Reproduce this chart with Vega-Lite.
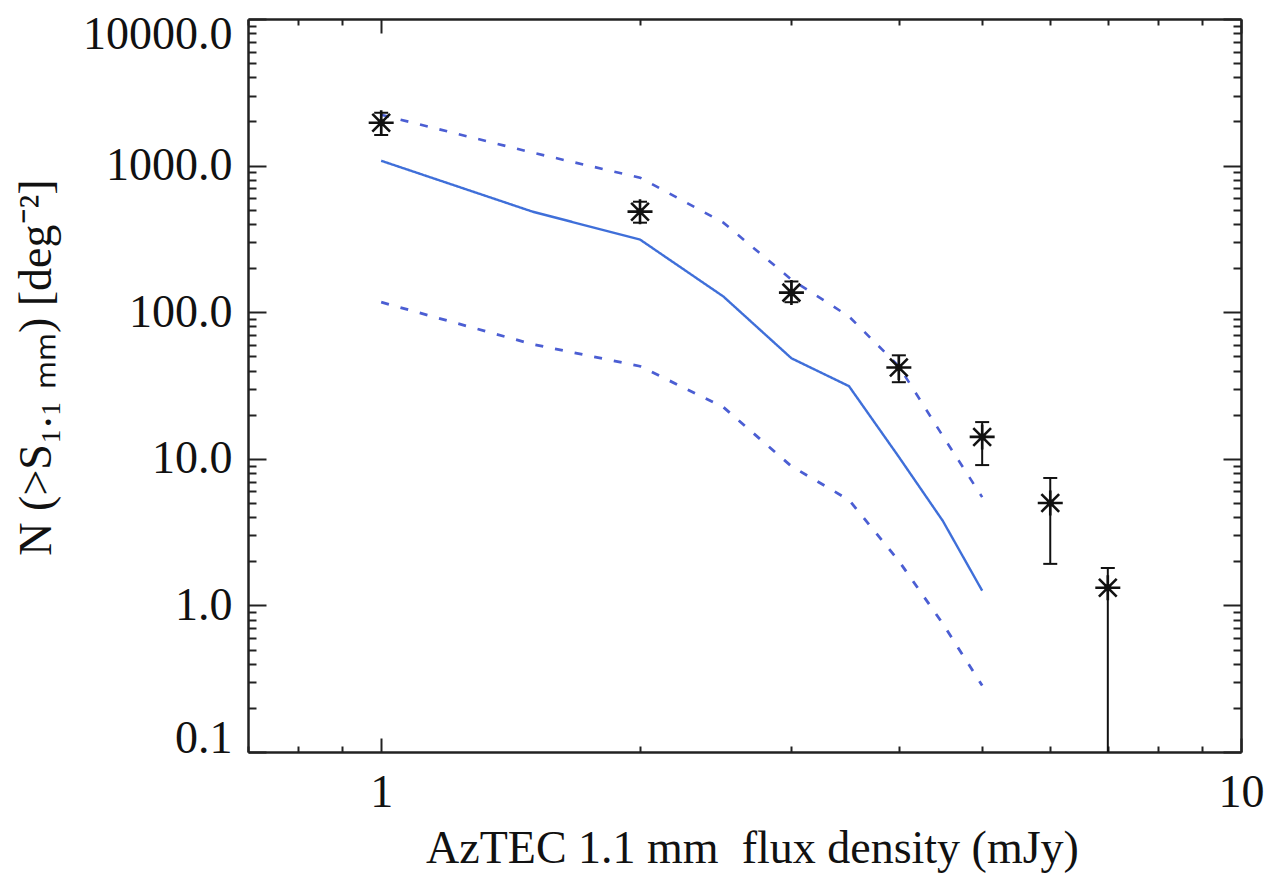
{
  "$schema": "https://vega.github.io/schema/vega-lite/v6.json",
  "width": 993,
  "height": 733,
  "autosize": {"type": "none"},
  "padding": {"left": 248, "top": 19, "right": 27, "bottom": 122},
  "background": "white",
  "config": {
    "view": {"stroke": null},
    "font": "Liberation Serif",
    "axis": {
      "grid": false,
      "labelFont": "Liberation Serif",
      "titleFont": "Liberation Serif",
      "labelFontSize": 46,
      "titleFontSize": 46,
      "labelColor": "#111",
      "titleColor": "#111",
      "titleFontWeight": "normal",
      "domainColor": "#222",
      "domainWidth": 2.5,
      "tickColor": "#222",
      "tickWidth": 2
    }
  },
  "datasets": {
    "model": [
      {"S": 1, "N": 1079, "curve": "model"},
      {"S": 1.5, "N": 485, "curve": "model"},
      {"S": 2, "N": 313, "curve": "model"},
      {"S": 2.5, "N": 128, "curve": "model"},
      {"S": 3, "N": 48.5, "curve": "model"},
      {"S": 3.5, "N": 31.3, "curve": "model"},
      {"S": 4, "N": 10.3, "curve": "model"},
      {"S": 4.5, "N": 3.77, "curve": "model"},
      {"S": 5, "N": 1.26, "curve": "model"},
      {"S": 1, "N": 2220, "curve": "upper"},
      {"S": 1.5, "N": 1225, "curve": "upper"},
      {"S": 2, "N": 828, "curve": "upper"},
      {"S": 2.5, "N": 408, "curve": "upper"},
      {"S": 3, "N": 167, "curve": "upper"},
      {"S": 3.5, "N": 93.5, "curve": "upper"},
      {"S": 4, "N": 42.8, "curve": "upper"},
      {"S": 4.5, "N": 14.3, "curve": "upper"},
      {"S": 5, "N": 5.48, "curve": "upper"},
      {"S": 1, "N": 117, "curve": "lower"},
      {"S": 1.5, "N": 60.4, "curve": "lower"},
      {"S": 2, "N": 42.8, "curve": "lower"},
      {"S": 2.5, "N": 22.5, "curve": "lower"},
      {"S": 3, "N": 8.9, "curve": "lower"},
      {"S": 3.5, "N": 5.24, "curve": "lower"},
      {"S": 4, "N": 2.01, "curve": "lower"},
      {"S": 4.5, "N": 0.75, "curve": "lower"},
      {"S": 5, "N": 0.284, "curve": "lower"}
    ],
    "obs": [
      {"S": 1, "N": 1960, "lo": 1620, "hi": 2290},
      {"S": 2, "N": 485, "lo": 408, "hi": 567},
      {"S": 3, "N": 136, "lo": 117, "hi": 162},
      {"S": 4, "N": 42, "lo": 33.3, "hi": 50.8},
      {"S": 5, "N": 14.1, "lo": 9.06, "hi": 17.8},
      {"S": 6, "N": 5.0, "lo": 1.92, "hi": 7.4},
      {"S": 7, "N": 1.32, "lo": 0.05, "hi": 1.8}
    ]
  },
  "layer": [
    {
      "data": {"name": "model"},
      "mark": {"type": "line", "clip": true},
      "encoding": {
        "x": {
          "field": "S", "type": "quantitative",
          "scale": {"type": "log", "domain": [0.7, 10], "nice": false},
          "axis": {
            "orient": "bottom", "values": [1, 10], "format": "d",
            "tickSize": -14, "labelPadding": 32, "labelFlush": false,
            "title": "AzTEC 1.1 mm\u00a0 flux density (mJy)",
            "titleX": 504, "titleY": 110, "titleBaseline": "alphabetic", "titleAlign": "center"
          }
        },
        "y": {
          "field": "N", "type": "quantitative",
          "scale": {"type": "log", "domain": [0.1, 10000], "nice": false},
          "axis": {
            "orient": "left", "values": [0.1, 1, 10, 100, 1000, 10000], "format": ".1f",
            "tickSize": -18, "labelPadding": 34, "labelFlush": false,
            "labelBaseline": {"condition": [{"test": "datum.value <= 0.1", "value": "alphabetic"}, {"test": "datum.value >= 10000", "value": "top"}], "value": "middle"},
            "labelOffset": {"condition": {"test": "datum.value >= 10000", "value": -7}, "value": 0},
            "title": "N (>S₁.₁ ₘₘ) [deg⁻²]",
            "titleX": -198, "titleY": 348, "titleAngle": -90, "titleBaseline": "alphabetic", "titleAlign": "center"
          }
        },
        "detail": {"field": "curve"},
        "strokeDash": {
          "field": "curve", "type": "nominal",
          "scale": {"domain": ["model", "upper", "lower"], "range": [[1, 0], [8, 12], [8, 12]]},
          "legend": null
        },
        "strokeWidth": {
          "field": "curve", "type": "nominal",
          "scale": {"domain": ["model", "upper", "lower"], "range": [2.4, 2.8, 2.8]},
          "legend": null
        },
        "color": {
          "field": "curve", "type": "nominal",
          "scale": {"domain": ["model", "upper", "lower"], "range": ["#3f6fd9", "#4b5ed3", "#4b5ed3"]},
          "legend": null
        }
      }
    },
    {
      "data": {"name": "obs"},
      "mark": {"type": "rule", "strokeWidth": 2, "color": "#111", "clip": true},
      "encoding": {
        "x": {
          "field": "S", "type": "quantitative",
          "scale": {"type": "log", "domain": [0.7, 10], "nice": false},
          "axis": {"orient": "bottom", "values": [0.7, 0.8, 0.9, 2, 3, 4, 5, 6, 7, 8, 9], "tickSize": -6, "labels": false, "domain": false, "title": null}
        },
        "y": {
          "field": "lo", "type": "quantitative",
          "scale": {"type": "log", "domain": [0.1, 10000], "nice": false},
          "axis": {"orient": "left", "values": [0.2, 0.3, 0.4, 0.5, 0.6, 0.7, 0.8, 0.9, 2, 3, 4, 5, 6, 7, 8, 9, 20, 30, 40, 50, 60, 70, 80, 90, 200, 300, 400, 500, 600, 700, 800, 900, 2000, 3000, 4000, 5000, 6000, 7000, 8000, 9000], "tickSize": -8, "labels": false, "domain": false, "title": null}
        },
        "y2": {"field": "hi"}
      }
    },
    {
      "data": {"name": "obs"},
      "mark": {"type": "tick", "orient": "horizontal", "size": 14, "thickness": 2, "color": "#111", "opacity": 1, "clip": true},
      "encoding": {
        "x": {
          "field": "S", "type": "quantitative",
          "scale": {"type": "log", "domain": [0.7, 10], "nice": false},
          "axis": {"orient": "top", "values": [1, 10], "tickSize": -14, "labels": false, "title": null}
        },
        "y": {
          "field": "lo", "type": "quantitative",
          "scale": {"type": "log", "domain": [0.1, 10000], "nice": false},
          "axis": {"orient": "right", "values": [0.1, 1, 10, 100, 1000, 10000], "tickSize": -18, "labels": false, "title": null}
        }
      }
    },
    {
      "data": {"name": "obs"},
      "mark": {"type": "tick", "orient": "horizontal", "size": 14, "thickness": 2, "color": "#111", "opacity": 1, "clip": true},
      "encoding": {
        "x": {
          "field": "S", "type": "quantitative",
          "scale": {"type": "log", "domain": [0.7, 10], "nice": false},
          "axis": {"orient": "top", "values": [0.7, 0.8, 0.9, 2, 3, 4, 5, 6, 7, 8, 9], "tickSize": -6, "labels": false, "domain": false, "title": null}
        },
        "y": {
          "field": "hi", "type": "quantitative",
          "scale": {"type": "log", "domain": [0.1, 10000], "nice": false},
          "axis": {"orient": "right", "values": [0.2, 0.3, 0.4, 0.5, 0.6, 0.7, 0.8, 0.9, 2, 3, 4, 5, 6, 7, 8, 9, 20, 30, 40, 50, 60, 70, 80, 90, 200, 300, 400, 500, 600, 700, 800, 900, 2000, 3000, 4000, 5000, 6000, 7000, 8000, 9000], "tickSize": -8, "labels": false, "domain": false, "title": null}
        }
      }
    },
    {
      "data": {"name": "obs"},
      "mark": {"type": "point", "shape": "M-1,0L1,0M0,-1L0,1M-0.71,-0.71L0.71,0.71M-0.71,0.71L0.71,-0.71", "filled": false, "size": 625, "stroke": "#111", "strokeWidth": 2.6, "opacity": 1, "clip": true},
      "encoding": {
        "x": {"field": "S", "type": "quantitative", "scale": {"type": "log", "domain": [0.7, 10], "nice": false}, "axis": null},
        "y": {"field": "N", "type": "quantitative", "scale": {"type": "log", "domain": [0.1, 10000], "nice": false}, "axis": null}
      }
    },
    {
      "data": {"name": "obs"},
      "mark": {"type": "circle", "size": 50, "color": "#111", "opacity": 1, "clip": true},
      "encoding": {
        "x": {"field": "S", "type": "quantitative", "scale": {"type": "log", "domain": [0.7, 10], "nice": false}, "axis": null},
        "y": {"field": "N", "type": "quantitative", "scale": {"type": "log", "domain": [0.1, 10000], "nice": false}, "axis": null}
      }
    }
  ],
  "resolve": {"axis": {"x": "independent", "y": "independent"}}
}
